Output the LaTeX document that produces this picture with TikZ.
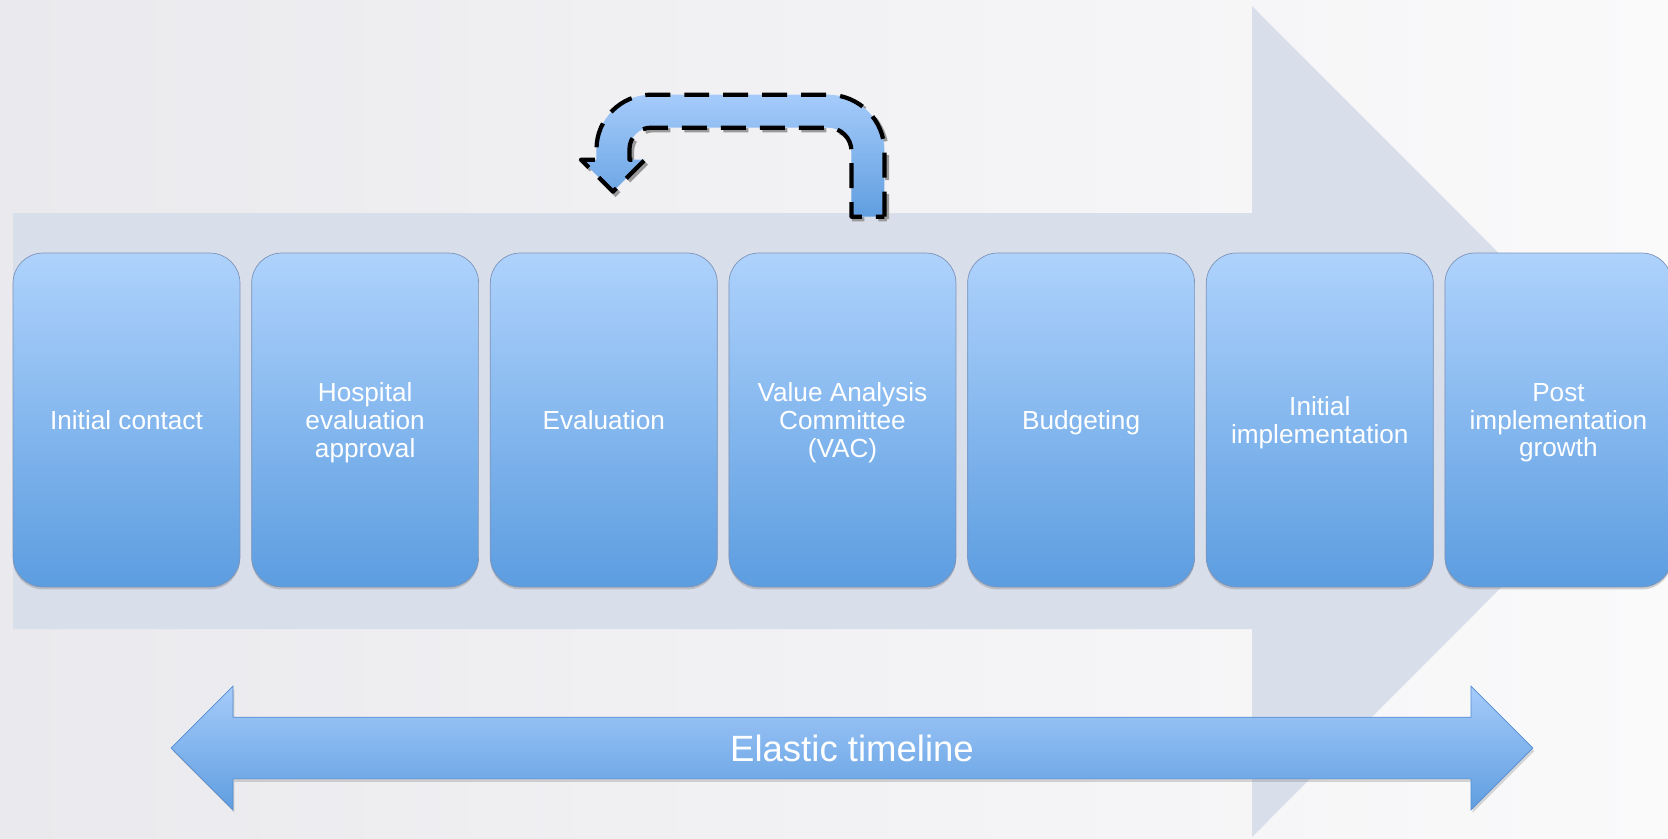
\documentclass[tikz,border=0pt]{standalone}
\usepackage{fontspec}
\setmainfont{Liberation Sans}
\usetikzlibrary{positioning,shapes.arrows,shadows}
\definecolor{bg-left}{RGB}{234,233,237}
\definecolor{bg-right}{RGB}{250,250,251}
\definecolor{flow-back}{RGB}{217,222,235}
\definecolor{box-top}{RGB}{174,210,252}
\definecolor{box-mid}{RGB}{140,190,246}
\definecolor{box-bottom}{RGB}{92,157,224}
\definecolor{box-line}{RGB}{125,148,185}
\definecolor{arrow-top}{RGB}{165,203,250}
\definecolor{arrow-bottom}{RGB}{96,158,224}
\definecolor{arrow-line}{RGB}{85,140,210}
\tikzset{
    step-box/.style = {rectangle, rounded corners=0.6cm, draw=box-line, thin, top color=box-top, middle color=box-mid, bottom color=box-bottom, minimum width=4.54cm, minimum height=6.68cm, inner sep=0pt, text depth=0pt, text=white, align=center, font=\fontsize{14.9}{15.8}\selectfont, drop shadow={opacity=0.35, shadow xshift=0pt, shadow yshift=-0.05cm}},
    timeline-arrow/.style = {double arrow, double arrow head extend=0.62cm, double arrow tip angle=90, minimum height=27.24cm, inner xsep=0pt, inner ysep=0pt, text height=0.88cm, text depth=0.34cm, draw=arrow-line, thin, top color=arrow-top, bottom color=arrow-bottom, text=white, font=\fontsize{20.8}{24}\selectfont, drop shadow={opacity=0.3, shadow xshift=0.03cm, shadow yshift=-0.06cm}},
    loop-arrow/.style = {top color=arrow-top, bottom color=arrow-bottom, draw=black, line width=2.4pt, dash pattern=on 0.5cm off 0.28cm, line join=round, preaction={draw=black!40, line width=2.4pt, dash pattern=on 0.5cm off 0.28cm, transform canvas={xshift=0.05cm, yshift=-0.05cm}}},
}
\begin{document}
\begin{tikzpicture}[x=0.02cm, y=-0.02cm]
\useasboundingbox (0,0) rectangle (1668,839);
\shade[left color=bg-left, right color=bg-right] (0,0) rectangle (1668,839);
% big background arrow
\fill[flow-back] (13,213) -- (1252,213) -- (1252,6) -- (1667,421.5) -- (1252,837) -- (1252,629) -- (13,629) -- cycle;

% process steps
\node[step-box] (contact) at (126.5,420) {Initial contact};
\node[step-box, right=0.22cm of contact] (approval) {Hospital\\evaluation\\approval};
\node[step-box, right=0.22cm of approval] (evaluation) {Evaluation};
\node[step-box, right=0.22cm of evaluation] (vac) {Value Analysis\\Committee\\(VAC)};
\node[step-box, right=0.22cm of vac] (budgeting) {Budgeting};
\node[step-box, right=0.22cm of budgeting] (implementation) {Initial\\implementation};
\node[step-box, right=0.22cm of implementation] (growth) {Post\\implementation\\growth};

% loop back from VAC to evaluation
\begin{scope}[shift={(vac.north)}]
\path[loop-arrow] (42,-36) -- (42,-101.5) arc[start angle=0, end angle=90, radius=1.13cm]
    -- (-191.5,-158) arc[start angle=90, end angle=180, radius=1.09cm]
    -- (-246,-93) -- (-261.5,-93) -- (-229.5,-61) -- (-197.5,-93) -- (-213,-93)
    -- (-213,-103.5) arc[start angle=180, end angle=90, radius=0.43cm]
    -- (-14.5,-125) arc[start angle=90, end angle=0, radius=0.47cm]
    -- (9,-36) -- cycle;
\end{scope}

% timeline
\node[timeline-arrow] (timeline) at (852,748) {Elastic timeline};
\end{tikzpicture}
\end{document}
